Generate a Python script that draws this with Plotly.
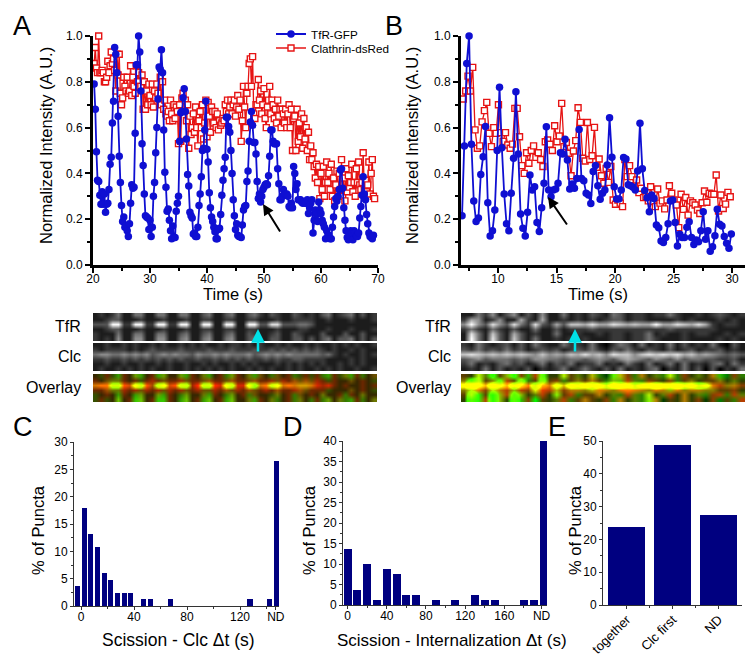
import numpy as np
import plotly.graph_objects as go

# ---------- Data ----------
tfr_a = [.79,.68,.495,.37,.365,.305,.265,.32,.265,.31,.23,.265,.27,.33,.44,.47,.62,.715,.95,.92,.84,.65,.475,.36,.26,.19,.21,.165,.17,.15,.125,.18,.27,.35,.335,.34,.575,.875,.875,1.0,
.93,.76,.53,.435,.31,.215,.21,.205,.155,.195,.125,.165,.30,.36,.49,.60,.725,.865,.855,.94,.84,.59,.405,.34,.235,.245,.195,.15,.115,.17,.12,.12,.235,.27,.30,.54,.665,.67,.73,.77,
.67,.55,.395,.345,.23,.215,.205,.135,.14,.125,.125,.165,.26,.31,.385,.5,.51,.59,.715,.505,.45,.315,.25,.21,.19,.165,.145,.115,.115,.155,.16,.22,.305,.37,.42,.47,.645,.645,.605,.58,
.50,.40,.285,.215,.155,.18,.13,.125,.125,.12,.175,.24,.255,.26,.365,.41,.54,.625,.67,.61,.535,.535,.485,.365,.29,.31,.275,.30,.33,.34,.35,.355,.35,.39,.475,.59,.59,.54,.53,.53,
.53,.42,.355,.285,.285,.30,.33,.31,.31,.31,.30,.255,.25,.27,.25,.43,.40,.33,.355,.285,.285,.285,.275,.27,.275,.27,.27,.285,.225,.25,.27,.285,.14,.195,.24,.22,.19,.275,.24,.225,
.195,.18,.165,.115,.15,.12,.13,.115,.115,.165,.21,.255,.29,.28,.30,.33,.415,.42,.335,.25,.195,.15,.12,.11,.13,.15,.14,.11,.15,.14,.13,.125,.14,.205,.255,.305,.385,.31,.285,.22,.18,.14,.125,.12,.115,.13]
clathrin_a = [.88,.95,.86,.84,1.0,.84,.84,.85,.84,.80,.80,.82,.89,.84,.87,.93,.88,.90,.85,.76,.92,.83,.92,.75,.70,.73,.82,.78,.76,.82,.75,.76,.87,.74,.82,.78,.75,.87,.80,.84,
.78,.78,.83,.68,.80,.68,.76,.70,.79,.74,.70,.79,.69,.76,.73,.79,.75,.72,.82,.70,.80,.68,.72,.66,.65,.67,.63,.72,.66,.63,.70,.64,.69,.67,.53,.70,.54,.73,.75,.67,
.72,.63,.70,.51,.65,.57,.60,.66,.58,.69,.60,.52,.63,.67,.60,.70,.55,.62,.72,.56,.71,.65,.58,.69,.67,.62,.67,.60,.66,.59,.63,.61,.62,.64,.63,.70,.67,.72,.66,.69,
.72,.66,.70,.72,.65,.69,.74,.68,.72,.54,.63,.78,.69,.60,.75,.78,.88,.90,.78,.91,.66,.64,.70,.70,.81,.72,.76,.66,.70,.77,.64,.60,.69,.72,.78,.66,.72,.70,.64,.68,
.62,.72,.65,.68,.60,.68,.66,.62,.68,.60,.66,.70,.60,.68,.50,.64,.65,.50,.68,.54,.62,.56,.66,.51,.64,.55,.60,.50,.58,.46,.52,.46,.49,.43,.38,.44,.36,.43,.29,.40,
.33,.43,.30,.36,.45,.36,.40,.33,.44,.30,.38,.28,.35,.41,.30,.40,.33,.46,.30,.38,.28,.42,.32,.39,.34,.36,.44,.32,.36,.30,.42,.36,.45,.35,.33,.36,.49,.33,.37,.32,.35,.45,.31,.40,.46,.30,.29]
tfr_b = [.215,.52,.88,1.0,.527,.28,.19,.205,.395,.473,.605,.272,.127,.15,.24,.50,.776,.512,.31,.18,.15,.313,.466,.757,.485,.223,.16,.127,.23,.393,.328,.342,.186,.146,.25,.357,.604,.328,.298,.328,
.332,.357,.49,.485,.549,.458,.332,.354,.335,.378,.592,.378,.368,.313,.306,.269,.408,.434,.346,.287,.313,.328,.437,.643,.47,.342,.288,.288,.328,.469,.463,.35,.346,.339,.328,.41,.619,.42,.325,.294,
.233,.306,.29,.175,.163,.105,.098,.12,.18,.28,.284,.186,.083,.134,.12,.12,.165,.189,.12,.09,.109,.102,.15,.233,.112,.15,.06,.08,.128,.243,.178,.17,.124,.095,.073,.135]
clathrin_b = [.725,.76,.825,.76,.863,.59,.51,.52,.625,.674,.71,.575,.517,.60,.575,.70,.578,.54,.578,.524,.51,.528,.684,.684,.56,.434,.40,.49,.444,.5,.52,.47,.49,.461,.43,.538,.546,.527,.5,.608,
.538,.563,.706,.517,.535,.488,.39,.498,.543,.687,.623,.466,.454,.622,.461,.477,.601,.427,.463,.39,.357,.422,.361,.43,.284,.265,.284,.27,.255,.46,.386,.434,.386,.346,.371,.316,.335,.294,.298,.28,
.342,.277,.255,.332,.27,.28,.245,.284,.346,.313,.284,.262,.163,.309,.243,.295,.218,.28,.272,.262,.24,.225,.272,.323,.274,.313,.309,.309,.393,.236,.306,.247,.266,.317,.298]

scission_clc_x = [-2.5,2.5,7.5,12.5,17.5,22.5,27.5,32.5,37.5,47.5,52.5,67.5,127.5,142.5,147.5]
scission_clc_y = [3.6,18,13.2,10.8,6,4.8,2.4,2.4,2.4,1.2,1.2,1.2,1.2,1.2,26.5]
scission_int_x = [0,10,20,30,40,50,60,70,90,110,130,140,150,180,190,200]
scission_int_y = [13.7,3.7,10,1.2,8.7,7.5,2.4,2.4,1.2,1.2,2.4,1.2,1.2,1.2,1.2,40]
order_labels = ["together","Clc first","ND"]
order_y = [23.7,48.7,27.4]

# Kymographs: one digit per cell, brightness 0-9
kymo_a_tfr = ["12124114411441144113411341134213211321213412341312",
              "11233111211121112112211221122111211222211211121112",
              "33399229922992299119911991199338833344311111111111",
              "11233111211121112112211221122111211122111211121112",
              "21114114411441134113411341132112311321113111311311",
              "21215115511551145114511451134113311331313413341313"]
kymo_a_clc = ["11211212112121121212112122121211212112121121212112",
              "21222212123222232222322232223223232323232121121211",
              "45544545453454544354454544453454545444443421211212",
              "22322323232323232232232323232232322332222111121211",
              "11211211211212112112121121212111212121212112121211",
              "12112121212112112121212121121212112121121212112112"]
kymo_b_tfr = ["1142513513151141213214312212242112123212",
              "2651251162161121212123312211112121112121",
              "5953853842832637768668767669668768621221",
              "2421421311411312223222222222232222221111",
              "1841731631211411211212212241211212211212",
              "1941831731411212121112212242111211112121"]
kymo_b_clc = ["2142123131421142214102431412141312141031",
              "3242324231232312324213242132131231223121",
              "7876767676575657686758775787878675654343",
              "3453444343554434434543565435435344332231",
              "2412134231241324122412142141241412134142",
              "1214131213021241242131412134021413030214"]

W, H = 755, 658
BLUE, RED, NAVY = "#0f0fd2", "#e61414", "#000080"
FONT = "Liberation Sans, Arial, sans-serif"

def dom_x(a, b): return [a / W, b / W]
def dom_y(top, bottom): return [1 - bottom / H, 1 - top / H]

def tile(rows, w, h):
    a = np.array([[int(c) / 9 for c in r] for r in rows])
    n_r, n_c = a.shape
    xs = (np.arange(w) + .5) / w * n_c - .5
    ys = (np.arange(h) + .5) / h * n_r - .5
    b = np.array([np.interp(xs, np.arange(n_c), row) for row in a])
    return np.array([np.interp(ys, np.arange(n_r), col) for col in b.T]).T

def gray(v):
    g = np.clip(v * 255, 0, 255).astype(int)
    return np.stack([g, g, g], axis=-1)

def overlay(t, c, gg, rg):
    return np.stack([np.clip(c * rg * 255, 0, 255).astype(int),
                     np.clip(t * gg * 255, 0, 255).astype(int),
                     np.zeros_like(t, dtype=int)], axis=-1)

fig = go.Figure()

# Line panels
def line_panel(idx, tfr, clat, x0_t, x0_c, legend):
    xa, ya = f"x{idx}" if idx > 1 else "x", f"y{idx}" if idx > 1 else "y"
    fig.add_trace(go.Scatter(x0=x0_c, dx=.2, y=clat, mode="lines+markers", name="Clathrin-dsRed", xaxis=xa, yaxis=ya,
                             line=dict(color=RED, width=1.3), cliponaxis=False, showlegend=legend, legend="legend2",
                             marker=dict(symbol="square", size=6, color="white", line=dict(color=RED, width=1.4))))
    fig.add_trace(go.Scatter(x0=x0_t, dx=.2, y=tfr, mode="lines+markers", name="TfR-GFP", xaxis=xa, yaxis=ya,
                             line=dict(color=BLUE, width=1.8), cliponaxis=False, showlegend=legend, legend="legend",
                             marker=dict(symbol="circle", size=7.5, color=BLUE)))

line_panel(1, tfr_a, clathrin_a, 20.2, 20.2, True)
line_panel(2, tfr_b, clathrin_b, 6.93, 7.04, False)

# Bars
fig.add_trace(go.Bar(x=scission_clc_x, y=scission_clc_y, width=3.8, marker_color=NAVY, xaxis="x3", yaxis="y3", showlegend=False))
fig.add_trace(go.Bar(x=scission_int_x, y=scission_int_y, width=8, marker_color=NAVY, xaxis="x4", yaxis="y4", showlegend=False))
fig.add_trace(go.Bar(x=[0, 1, 2], y=order_y, width=.8, marker_color=NAVY, xaxis="x5", yaxis="y5", showlegend=False))

# Kymographs on one pixel-scaled pair of axes
tw, th = 284, 28
at, ac = tile(kymo_a_tfr, tw, th), tile(kymo_a_clc, tw, th)
bt, bc = tile(kymo_b_tfr, tw, th), tile(kymo_b_clc, tw, th)
images = [(gray(at), 93, 313), (gray(ac), 93, 343), (overlay(at, ac, 1.4, 1.9), 93, 374),
          (gray(bt), 461, 313), (gray(bc), 461, 343), (overlay(bt, bc, 2.2, 1.6), 461, 374)]
for z, x0, y0 in images:
    fig.add_trace(go.Image(z=z.tolist(), x0=x0 + .5, y0=y0 + .5, dx=1, dy=1, xaxis="x6", yaxis="y6", hoverinfo="skip"))

thick = dict(showline=True, linecolor="black", linewidth=3, ticks="outside", tickwidth=2, ticklen=5, automargin=False,
             tickcolor="black", showgrid=False, zeroline=False, tickfont=dict(size=12, family=FONT, color="black"))
thin = dict(showline=True, linecolor="#333333", linewidth=1, ticks="outside", tickwidth=1, ticklen=3, automargin=False,
            tickcolor="#333333", showgrid=False, zeroline=False, tickfont=dict(size=12, family=FONT, color="black"))
minor_thick = dict(ticks="outside", ticklen=3, tickwidth=2, tickcolor="black")
minor_thin = dict(ticks="outside", ticklen=2, tickwidth=1, tickcolor="#333333")

layout = dict(
    template="none", width=W, height=H, autosize=False, margin=dict(l=0, r=0, t=0, b=0),
    paper_bgcolor="white", plot_bgcolor="rgba(0,0,0,0)", bargap=0,
    font=dict(family=FONT, color="black"),
    legend=dict(x=271 / W, y=1 - 34 / H, xanchor="left", yanchor="middle", bgcolor="rgba(0,0,0,0)",
                font=dict(size=11.7, family=FONT), itemwidth=30),
    legend2=dict(x=271 / W, y=1 - 48 / H, xanchor="left", yanchor="middle", bgcolor="rgba(0,0,0,0)",
                 font=dict(size=11.7, family=FONT), itemwidth=30),
    xaxis=dict(domain=dom_x(93, 378), anchor="y", range=[20, 70], tickvals=[20, 30, 40, 50, 60, 70], ticklabelstandoff=-4,
               minor=dict(tickvals=[25, 35, 45, 55, 65], **minor_thick), **thick),
    yaxis=dict(domain=dom_y(36, 265), anchor="x", range=[0, 1], tickvals=[0, .2, .4, .6, .8, 1], tickformat=".1f",
               minor=dict(tickvals=[.1, .3, .5, .7, .9], **minor_thick), **thick),
    xaxis2=dict(domain=dom_x(461, 745), anchor="y2", range=[6.84, 31.1], tickvals=[10, 15, 20, 25, 30], ticklabelstandoff=-4,
                minor=dict(tickvals=[7.5, 12.5, 17.5, 22.5, 27.5], **minor_thick), **thick),
    yaxis2=dict(domain=dom_y(36, 265), anchor="x2", range=[0, 1], tickvals=[0, .2, .4, .6, .8, 1], tickformat=".1f",
                minor=dict(tickvals=[.1, .3, .5, .7, .9], **minor_thick), **thick),
    xaxis3=dict(domain=dom_x(74, 279), anchor="y3", range=[-5.3, 149.4], tickvals=[0, 40, 80, 120, 147], ticklabelstandoff=-3,
                ticktext=["0", "40", "80", "120", "ND"], minor=dict(tickvals=[20, 60, 100, 140], **minor_thin), **thin),
    yaxis3=dict(domain=dom_y(442, 606), anchor="x3", range=[0, 30], tickvals=[0, 5, 10, 15, 20, 25, 30],
                minor=dict(tickvals=[2.5, 7.5, 12.5, 17.5, 22.5, 27.5], **minor_thin), **thin),
    xaxis4=dict(domain=dom_x(343, 547), anchor="y4", range=[-4.7, 203.5], tickvals=[0, 40, 80, 120, 160, 198], ticklabelstandoff=-3,
                ticktext=["0", "40", "80", "120", "160", "ND"], minor=dict(tickvals=[20, 60, 100, 140, 180], **minor_thin), **thin),
    yaxis4=dict(domain=dom_y(441, 605), anchor="x4", range=[0, 40], tickvals=[0, 5, 10, 15, 20, 25, 30, 35, 40],
                minor=dict(tickvals=[2.5, 7.5, 12.5, 17.5, 22.5, 27.5, 32.5, 37.5], **minor_thin), **thin),
    xaxis5=dict(domain=dom_x(603, 742), anchor="y5", range=[-.517, 2.51], tickvals=[0, 1, 2], ticktext=order_labels,
                tickangle=-45, ticklabelstandoff=-2, minor=dict(tickvals=[.5, 1.5], **minor_thin), **thin),
    yaxis5=dict(domain=dom_y(441, 605), anchor="x5", range=[0, 50], tickvals=[0, 10, 20, 30, 40, 50],
                minor=dict(tickvals=[5, 15, 25, 35, 45], **minor_thin), **thin),
    xaxis6=dict(domain=[0, 1], anchor="y6", range=[0, W], visible=False, fixedrange=True, automargin=False),
    yaxis6=dict(domain=[0, 1], anchor="x6", range=[H, 0], visible=False, fixedrange=True, automargin=False),
)
fig.update_layout(**layout)
fig.layout.xaxis5.tickfont.size = 13

def text(s, x, y, size, angle=0, anchor="center"):
    fig.add_annotation(text=s, xref="paper", yref="paper", x=x / W, y=1 - y / H, xanchor=anchor, yanchor="middle",
                       showarrow=False, textangle=angle, font=dict(size=size, family=FONT, color="black"))

for s, x, y in [("A", 11, 26), ("B", 383, 26), ("C", 11, 427), ("D", 281, 427), ("E", 546, 427)]:
    text(s, x, y, 27, anchor="left")
text("Normalized Intensity (A.U.)", 46, 146, 16.5, -90)
text("Normalized Intensity (A.U.)", 412, 146, 16.5, -90)
text("Time (s)", 233, 294, 16.5)
text("Time (s)", 598, 294, 16.5)
text("% of Puncta", 38, 530, 16.5, -90)
text("% of Puncta", 309, 530, 16.5, -90)
text("% of Puncta", 575, 530, 16.5, -90)
text("Scission - Clc Δt (s)", 178, 640, 17.5)
text("Scission - Internalization Δt (s)", 452, 640, 17)
for x_r in (83, 453):
    text("TfR", x_r, 326, 16, anchor="right")
    text("Clc", x_r, 357, 16, anchor="right")
    text("Overlay", x_r, 387, 16, anchor="right")

def arrow(x, y, dx, dy, color, width):
    fig.add_annotation(xref="paper", yref="paper", x=x / W, y=1 - y / H, ax=dx, ay=dy, showarrow=True, text="",
                       arrowhead=2, arrowsize=1.1, arrowwidth=width, arrowcolor=color)

arrow(263, 204, 18, 29, "black", 2)
arrow(548, 197, 20, 29, "black", 2)
arrow(258, 329, 0, 24, "#00e0e6", 2.5)
arrow(575, 329, 0, 24, "#00e0e6", 2.5)

fig.write_html("out.html", config=dict(displayModeBar=False), post_script="document.body.style.margin='0';")
